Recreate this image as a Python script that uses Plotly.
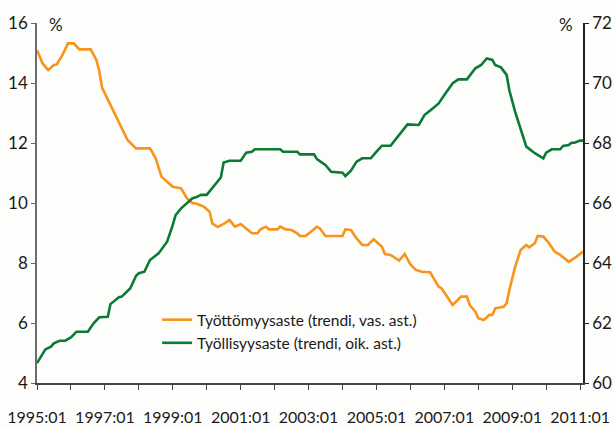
import plotly.graph_objects as go

# Unemployment rate (trend, left axis), %
unemp_months = ["1995-01","1995-03","1995-05","1995-07","1995-08","1995-10","1995-12",
    "1996-02","1996-04","1996-08","1996-10","1996-11","1996-12","1997-03","1997-05","1997-07",
    "1997-09","1997-12","1998-05","1998-07","1998-09","1998-11","1999-01","1999-04","1999-06",
    "1999-08","1999-09","1999-12","2000-02","2000-03","2000-05","2000-07","2000-09","2000-11",
    "2001-01","2001-05","2001-07","2001-08","2001-10","2001-11","2002-02","2002-03","2002-05",
    "2002-07","2002-09","2002-10","2002-12","2003-04","2003-05","2003-07","2004-01","2004-02",
    "2004-04","2004-06","2004-08","2004-10","2004-12","2005-03","2005-04","2005-06","2005-09",
    "2005-11","2006-01","2006-03","2006-05","2006-08","2006-11","2006-12","2007-04","2007-07",
    "2007-09","2007-10","2007-12","2008-01","2008-03","2008-05","2008-06","2008-07","2008-10",
    "2008-11","2008-12","2009-02","2009-04","2009-06","2009-07","2009-09","2009-10","2009-12",
    "2010-02","2010-04","2010-06","2010-09","2010-10","2010-12","2011-02"]
unemp_values = [15.1,14.66,14.43,14.6,14.62,14.93,15.32,
    15.32,15.12,15.12,14.77,14.4,13.85,13.27,12.93,12.49,
    12.1,11.82,11.82,11.49,10.88,10.71,10.54,10.49,10.16,
    9.99,9.99,9.88,9.71,9.32,9.2,9.3,9.43,9.21,
    9.3,8.99,8.99,9.12,9.21,9.12,9.12,9.21,9.12,
    9.1,8.99,8.9,8.9,9.21,9.16,8.9,8.9,9.12,
    9.1,8.82,8.6,8.6,8.79,8.54,8.3,8.27,8.08,
    8.3,7.95,7.77,7.71,7.69,7.21,7.16,6.6,6.88,
    6.88,6.6,6.38,6.16,6.1,6.27,6.27,6.49,6.54,
    6.66,7.1,7.88,8.43,8.6,8.52,8.66,8.9,8.88,
    8.66,8.38,8.27,8.04,8.1,8.23,8.38]

# Employment rate (trend, right axis), %
emp_months = ["1995-01","1995-02","1995-04","1995-06","1995-07","1995-09","1995-11",
    "1996-01","1996-03","1996-07","1996-09","1996-11","1997-02","1997-03","1997-06","1997-07",
    "1997-10","1997-12","1998-01","1998-03","1998-05","1998-08","1998-10","1998-11","1999-01",
    "1999-02","1999-04","1999-06","1999-08","1999-09","1999-11","2000-01","2000-03","2000-06",
    "2000-07","2000-09","2001-01","2001-03","2001-05","2001-06","2002-03","2002-04","2002-09",
    "2002-10","2003-03","2003-04","2003-07","2003-09","2004-01","2004-02","2004-04","2004-06",
    "2004-08","2004-11","2005-01","2005-03","2005-06","2005-09","2005-10","2005-12","2006-04",
    "2006-06","2006-09","2006-11","2007-01","2007-04","2007-06","2007-09","2007-12","2008-02",
    "2008-04","2008-06","2008-07","2008-09","2008-11","2008-12","2009-02","2009-04","2009-06",
    "2009-09","2009-10","2009-12","2010-01","2010-03","2010-06","2010-07","2010-09","2010-10",
    "2010-11","2011-01","2011-02"]
emp_values = [60.66,60.82,61.12,61.21,61.32,61.41,61.41,
    61.52,61.71,61.71,61.99,62.19,62.21,62.63,62.86,62.88,
    63.16,63.57,63.66,63.71,64.1,64.32,64.6,64.71,65.27,
    65.6,65.82,65.99,66.16,66.18,66.27,66.27,66.49,66.85,
    67.35,67.41,67.41,67.68,67.71,67.79,67.79,67.71,67.71,
    67.62,67.62,67.46,67.27,67.04,67.01,66.9,67.08,67.38,
    67.49,67.49,67.71,67.91,67.91,68.27,68.41,68.62,68.6,
    68.93,69.16,69.32,69.6,69.99,70.12,70.12,70.49,70.6,
    70.82,70.77,70.6,70.52,70.27,69.75,69.04,68.43,67.88,
    67.66,67.6,67.49,67.68,67.79,67.79,67.9,67.93,68.01,
    68.01,68.08,68.08]

years = list(range(1995, 2012))
tick_vals = [f"{y}-01-01" for y in years]
tick_text = [f"{y}:01" if (y - 1995) % 2 == 0 else "" for y in years]

left_ticks = [4, 6, 8, 10, 12, 14, 16]
right_ticks = [60, 62, 64, 66, 68, 70, 72]

name_unemp = "Työttömyysaste (trendi, vas. ast.)"
name_emp = "Työllisyysaste (trendi, oik. ast.)"

ORANGE = "#F7941D"
GREEN = "#0A7A36"
FONT = "Lato"
TXT = "#1a1a1a"
BG = "#fdfdfb"

fig = go.Figure()
fig.add_trace(go.Scatter(x=unemp_months, y=unemp_values, mode="lines", name=name_unemp,
                         line=dict(color=ORANGE, width=2.6), yaxis="y"))
fig.add_trace(go.Scatter(x=emp_months, y=emp_values, mode="lines", name=name_emp,
                         line=dict(color=GREEN, width=2.6), yaxis="y2"))

fig.update_layout(
    width=614, height=429,
    margin=dict(l=37, r=31, t=23, b=46, autoexpand=False),
    paper_bgcolor=BG, plot_bgcolor=BG,
    font=dict(family=FONT, size=16, color=TXT),
    showlegend=True,
    legend=dict(x=0.220, y=0.222, xanchor="left", yanchor="top",
                bgcolor="rgba(0,0,0,0)", font=dict(size=15.5, family=FONT, color=TXT),
                tracegroupgap=0, itemwidth=30),
    xaxis=dict(type="date", range=["1995-01-01", "2011-02-01"], automargin=False,
               tickmode="array", tickvals=tick_vals, ticktext=tick_text,
               ticks="outside", ticklen=5, tickwidth=1.2, tickcolor="#444",
               showline=True, linecolor="#444", linewidth=1.5,
               showgrid=False, zeroline=False, ticklabelstandoff=14,
               tickfont=dict(size=16, family=FONT, color=TXT)),
    yaxis=dict(range=[4, 16], tickmode="array", tickvals=left_ticks, automargin=False,
               ticks="outside", ticklen=4, tickwidth=1.2, tickcolor="#666",
               showline=True, linecolor="#6d6d6d", linewidth=1.5,
               showgrid=False, zeroline=False,
               tickfont=dict(size=17, family=FONT, color=TXT)),
    yaxis2=dict(range=[60, 72], overlaying="y", side="right", tickmode="array",
                automargin=False,
                tickvals=right_ticks, ticks="outside", ticklen=4, tickwidth=1.2,
                tickcolor="#222", showline=True, linecolor="#222", linewidth=1.5,
                showgrid=False, zeroline=False,
                tickfont=dict(size=17, family=FONT, color=TXT)),
    annotations=[
        dict(text="%", xref="paper", yref="paper", x=0.035, y=0.995, xanchor="center",
             yanchor="middle", showarrow=False, font=dict(size=17, family=FONT, color=TXT)),
        dict(text="%", xref="paper", yref="paper", x=0.968, y=0.995, xanchor="center",
             yanchor="middle", showarrow=False, font=dict(size=17, family=FONT, color=TXT)),
    ],
)

fig.write_html("out.html", config={"displayModeBar": False},
               post_script="document.body.style.margin='0';document.body.style.background='" + BG + "';")
